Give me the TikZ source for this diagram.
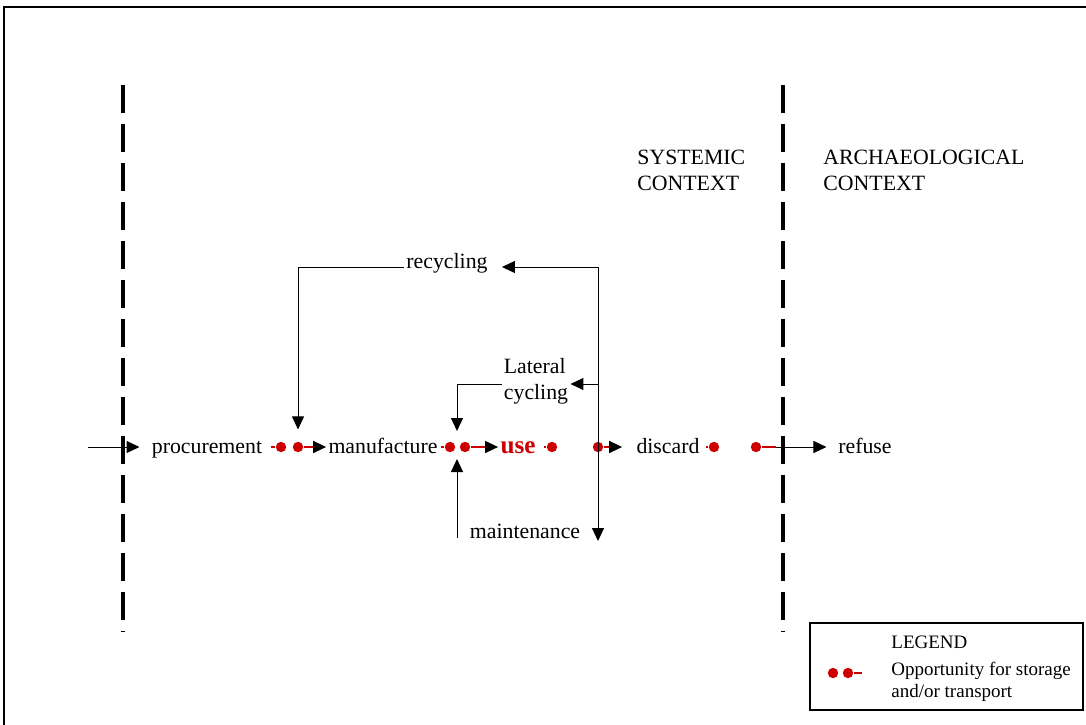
\documentclass[tikz,border=0pt]{standalone}
\usepackage{fontspec}
\setmainfont{Liberation Serif}
\usetikzlibrary{arrows.meta}
\definecolor{stopred}{RGB}{204,0,0}

\begin{document}
\begin{tikzpicture}[x=0.5pt, y=-0.5pt,
  stage/.style={inner sep=1pt, font=\fontsize{10.9}{13}\selectfont,
                text height=1.3ex, text depth=0pt},
  lbl/.style={inner sep=1pt, font=\fontsize{10.9}{13}\selectfont, align=left},
  leg/.style={inner sep=1pt, font=\fontsize{9.5}{11}\selectfont, align=left},
  stop/.style={circle, fill=stopred, inner sep=0pt, minimum size=5.2pt},
  arr/.style={-{Triangle[length=6.5pt, width=6pt]}, line width=0.5pt},
  redarr/.style={draw=stopred, line width=0.7pt,
                 -{Triangle[length=6.5pt, width=6pt, color=black]}},
  redln/.style={draw=stopred, line width=0.7pt},
  ctx/.style={line width=2pt, dash pattern=on 14pt off 5.5pt}]

  \useasboundingbox (0,0) rectangle (1086,724);
  \begin{scope}
    \clip (0,0) rectangle (1086,724);
    \draw[line width=1pt] (4,7) rectangle (1100,740);
  \end{scope}

  % context boundaries
  \draw[ctx] (123,85) -- (123,632);
  \draw[ctx] (783,85) -- (783,632);
  \node[lbl, anchor=north west] (sysctx) at (635,148) {SYSTEMIC\\CONTEXT};
  \node[lbl, anchor=north west] (arcctx) at (821,148) {ARCHAEOLOGICAL\\CONTEXT};

  % flow
  \node[stage] (proc) at (207,448) {procurement};
  \node[stage] (manu) at (383,448) {manufacture};
  \node[stage, font=\fontsize{12.6}{15}\selectfont\bfseries, text=stopred]
       (use) at (518,448) {use};
  \node[stage] (disc) at (668,448) {discard};
  \node[stage] (ref) at (865,448) {refuse};

  \node[stop] (s1) at (281,447) {};
  \node[stop] (s2) at (298,447) {};
  \node[stop] (s3) at (450,447) {};
  \node[stop] (s4) at (465,447) {};
  \node[stop] (s5) at (552,447) {};
  \node[stop] (s6) at (598,447) {};
  \node[stop] (s7) at (714,447) {};
  \node[stop] (s8) at (756,447) {};

  \coordinate (in) at (88,447);
  \draw[arr, shorten >=5pt] (in) -- (proc.west |- in);
  \draw[redln] (s1) -- ++(-10,0);
  \draw[redarr] (s2) -- (manu.west |- s2);
  \draw[redln] (s3) -- ++(-9,0);
  \draw[redarr] (s4) -- (use.west |- s4);
  \draw[redln] (s5) -- ++(-8,0);
  \draw[redarr, shorten >=6pt] (s6) -- (disc.west |- s6);
  \draw[redln] (s7) -- ++(-8,0);
  \draw[arr, shorten >=4.75pt] (s8) -- (ref.west |- s8);
  \draw[redln] (s8) -- ++(20,0);

  % cycling
  \node[lbl, anchor=base] (recyc) at (447,268) {recycling};
  \node[lbl] (lat) at (536,381) {Lateral\\cycling};
  \node[lbl, anchor=base] (maint) at (525,538) {maintenance};

  \coordinate (vtop) at (598,267);
  \coordinate (vbot) at (598,541);
  \coordinate (vlat) at (598,384);
  \coordinate (latin) at (457,431);
  \coordinate (mntin) at (457,459);

  \draw[arr] (vtop) -- (vbot);
  \draw[arr, shorten >=6pt] (vtop) -- (vtop -| recyc.east);
  \draw[arr] (recyc.base west |- vtop) -| ([yshift=6pt]s2.north);
  \draw[arr] (vlat) -- (vlat -| lat.east);
  \draw[arr] (vlat -| lat.west) -| (latin);
  \draw[arr] (maint.base west -| mntin) -- (mntin);

  % legend
  \node[draw, line width=1pt, minimum width=136.5pt, minimum height=43.5pt,
        inner sep=0pt] (legbox) at (946.5,666.5) {};
  \node[leg, anchor=base west] (legtitle) at (889,648) {LEGEND};
  \node[leg, anchor=north west] (legtext) at (889,660)
       {Opportunity for storage\\and/or transport};
  \node[stop] (l1) at (833,673) {};
  \node[stop] (l2) at (848,673) {};
  \draw[redln] (l2) -- ++(14,0);
\end{tikzpicture}
\end{document}
